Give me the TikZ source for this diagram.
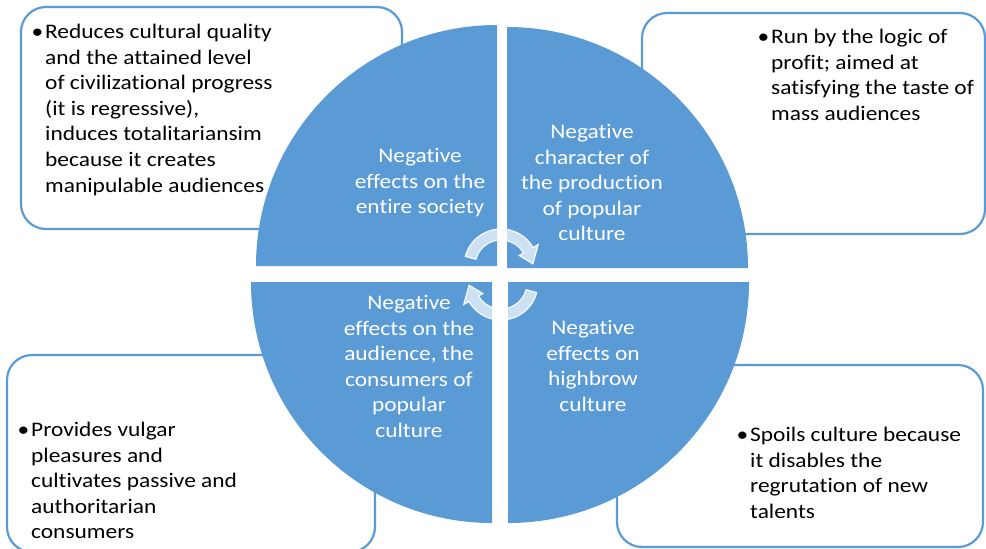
\documentclass[tikz,border=0pt]{standalone}
\usepackage{fontspec}
\setmainfont{Carlito}[FakeStretch=1.13, Ligatures={NoCommon}]
\definecolor{quadblue}{HTML}{5B9BD5}
\tikzset{
	quad/.style={fill=quadblue},
	infobox/.style={draw=quadblue, line width=2.2pt, rounded corners=25pt, fill=white},
	boxtext/.style={anchor=north west, align=left, inner sep=0pt, text=black,
		font=\fontsize{20.7}{25.6}\selectfont},
	quadtext/.style={anchor=north, align=center, inner sep=0pt, text=white,
		font=\fontsize{20.7}{25.6}\selectfont},
	cycarrow/.style={fill=white, fill opacity=0.7, draw=white, draw opacity=0.9, line width=1.2pt}
}

\begin{document}
\begin{tikzpicture}[x=1pt, y=-1pt]
	\useasboundingbox (0,0) rectangle (986,549);
	\draw[infobox] (21,7) rectangle (402,229);
	\draw[infobox] (642,13) rectangle (985,234);
	\draw[infobox] (7,355) rectangle (375,552);
	\draw[infobox] (617,365) rectangle (983,547);
	\fill[quad] (497,266) -- ++(-241,0) arc[start angle=180, end angle=270, radius=241] -- cycle;
	\fill[quad] (507,268) -- ++(0,-241) arc[start angle=270, end angle=360, radius=241] -- cycle;
	\fill[quad] (508,282) -- ++(241,0) arc[start angle=0, end angle=90, radius=241] -- cycle;
	\fill[quad] (492,282) -- ++(0,241) arc[start angle=90, end angle=180, radius=241] -- cycle;
	\begin{scope}[shift={(501,266)}, yscale=-1]
		\filldraw[cycarrow] (165:37) arc[start angle=165, end angle=30, radius=37] -- (30:43) -- (4:32)
		-- (30:21) -- (30:26) arc[start angle=30, end angle=165, radius=26] -- cycle;
	\end{scope}
	\begin{scope}[shift={(501,283)}, yscale=-1, rotate=180]
		\filldraw[cycarrow] (165:37) arc[start angle=165, end angle=30, radius=37] -- (30:43) -- (4:32)
		-- (30:21) -- (30:26) arc[start angle=30, end angle=165, radius=26] -- cycle;
	\end{scope}
	\node (tltext) [boxtext] at (45,24) {\llap{•\hspace{2pt}}Reduces cultural quality\\and the attained level\\of civilizational progress\\(it is regressive),\\induces totalitariansim\\because it creates\\manipulable audiences};
	\node (trtext) [boxtext] at (771,29) {\llap{•\hspace{2pt}}Run by the logic of\\profit; aimed at\\satisfying the taste of\\mass audiences};
	\node (bltext) [boxtext] at (31,422) {\llap{•\hspace{2pt}}Provides vulgar\\pleasures and\\cultivates passive and\\authoritarian\\consumers};
	\node (brtext) [boxtext] at (750,427) {\llap{•\hspace{2pt}}Spoils culture because\\it disables the\\regrutation of new\\talents};
	\node (society) [quadtext] at (420,148) {Negative\\effects on the\\entire society};
	\node (production) [quadtext] at (592,124) {Negative\\character of\\the production\\of popular\\culture};
	\node (audience) [quadtext] at (409,295) {Negative\\effects on the\\audience, the\\consumers of\\popular\\culture};
	\node (highbrow) [quadtext] at (593,320) {Negative\\effects on\\highbrow\\culture};
\end{tikzpicture}
\end{document}
